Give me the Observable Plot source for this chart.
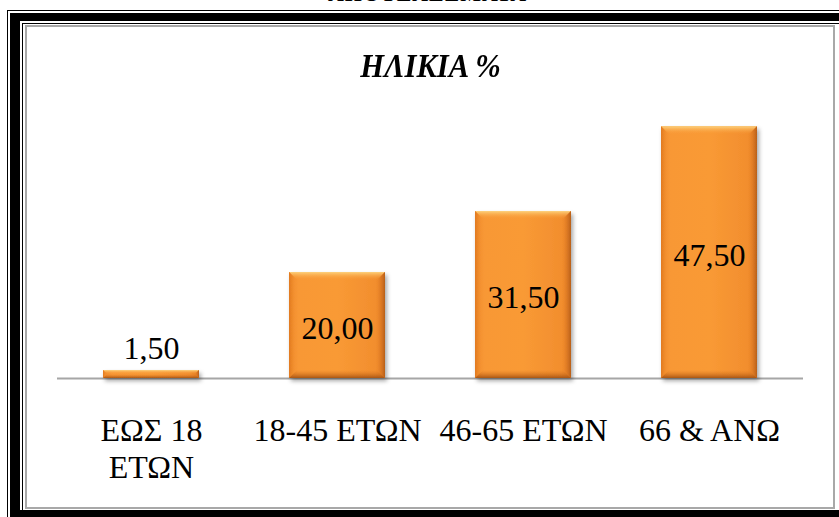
<!DOCTYPE html>
<html>
<head>
<meta charset="utf-8">
<script src="https://cdn.jsdelivr.net/npm/d3@7"></script>
<script src="https://cdn.jsdelivr.net/npm/@observablehq/plot@0.6"></script>
<style>
  html, body { margin: 0; padding: 0; background: #fff; }
  #page { position: relative; width: 839px; height: 517px; overflow: hidden; background: #fff; }
  .ln { position: absolute; box-sizing: content-box; }
  #heading { position: absolute; left: 8px; width: 839px; top: -19px; text-align: center;
    font-family: "Liberation Serif", serif; font-weight: bold; font-size: 22px; color: #000; letter-spacing: 1px; }
  #title { position: absolute; left: 11px; width: 839px; top: 49px; text-align: center; line-height: 34px;
    font-family: "Liberation Serif", serif; font-style: italic; font-weight: bold; font-size: 34px; color: #000;
    transform: scaleX(0.9); transform-origin: 50% 50%; }
  #chart { position: absolute; left: 0; top: 0; }
</style>
</head>
<body>
<div id="page">
  <div id="heading">ΑΠΟΤΕΛΕΣΜΑΤΑ</div>
  <!-- decorative double frame -->
  <div class="ln" style="left:7px;top:10px;width:900px;height:600px;border:1px solid #000;"></div>
  <div class="ln" style="left:10px;top:13px;width:900px;height:600px;background:#000;"></div>
  <div class="ln" style="left:20px;top:21px;width:900px;height:489px;background:#fff;"></div>
  <div class="ln" style="left:22px;top:23px;width:900px;height:486px;border:1px solid #000;border-right:none;"></div>
  <div class="ln" style="left:25px;top:25px;width:806px;height:480px;border:2px solid #a8a8a8;background:#fff;"></div>
  <div id="title">ΗΛΙΚΙΑ %</div>
  <div id="chart"></div>
</div>
<script>
// Age groups and their share (%)
const categories = ["ΕΩΣ 18\nΕΤΩΝ", "18-45 ΕΤΩΝ", "46-65 ΕΤΩΝ", "66 & ΑΝΩ"];
const values = [1.5, 20.0, 31.5, 47.5];
const valueLabels = ["1,50", "20,00", "31,50", "47,50"];

const data = categories.map((c, i) => ({category: c, value: values[i], label: valueLabels[i]}));
const inside = data.filter(d => d.value >= 5);
const outside = data.filter(d => d.value < 5);

const serif = '"Liberation Serif", serif';

// gradients and shadow for the bevelled bars
const defs = () => {
  const g = d3.create("svg:defs");
  const body = g.append("linearGradient").attr("id", "barBody").attr("x1", 0).attr("x2", 1).attr("y1", 0).attr("y2", 0);
  [[0, "#f08a2a"], [0.1, "#f89836"], [0.5, "#f99a35"], [0.9, "#f28e2e"], [1, "#e27b22"]]
    .forEach(([o, c]) => body.append("stop").attr("offset", o).attr("stop-color", c));
  const top = g.append("linearGradient").attr("id", "bevTop").attr("x1", 0).attr("x2", 0).attr("y1", 0).attr("y2", 1);
  top.append("stop").attr("offset", 0).attr("stop-color", "#fdd27e");
  top.append("stop").attr("offset", 1).attr("stop-color", "#f99a35").attr("stop-opacity", 0);
  const right = g.append("linearGradient").attr("id", "bevRight").attr("x1", 1).attr("x2", 0).attr("y1", 0).attr("y2", 0);
  right.append("stop").attr("offset", 0).attr("stop-color", "#b85f18");
  right.append("stop").attr("offset", 1).attr("stop-color", "#e6802a").attr("stop-opacity", 0);
  const left = g.append("linearGradient").attr("id", "bevLeft").attr("x1", 0).attr("x2", 1).attr("y1", 0).attr("y2", 0);
  left.append("stop").attr("offset", 0).attr("stop-color", "#e0781f");
  left.append("stop").attr("offset", 1).attr("stop-color", "#f99a35").attr("stop-opacity", 0);
  const bottom = g.append("linearGradient").attr("id", "bevBottom").attr("x1", 0).attr("x2", 0).attr("y1", 1).attr("y2", 0);
  bottom.append("stop").attr("offset", 0).attr("stop-color", "#a85514");
  bottom.append("stop").attr("offset", 1).attr("stop-color", "#e27b22").attr("stop-opacity", 0);
  const f = g.append("filter").attr("id", "barShadow").attr("x", "-20%").attr("y", "-20%").attr("width", "150%").attr("height", "150%");
  f.append("feDropShadow").attr("dx", 2).attr("dy", 3).attr("stdDeviation", 2).attr("flood-color", "#000").attr("flood-opacity", 0.35);
  return g.node();
};

// adds bevelled edges over each rendered bar
function bevel(index, scales, values, dims, ctx, next) {
  const g = next(index, scales, values, dims, ctx);
  const rects = Array.from(g.querySelectorAll("rect"));
  for (const r of rects) {
    const x = +r.getAttribute("x"), y = +r.getAttribute("y");
    const w = +r.getAttribute("width"), h = +r.getAttribute("height");
    const b = Math.min(8, h / 2);
    const poly = (pts, fill) => {
      const p = document.createElementNS("http://www.w3.org/2000/svg", "polygon");
      p.setAttribute("points", pts.map(q => q.join(",")).join(" "));
      p.setAttribute("fill", fill);
      g.appendChild(p);
    };
    poly([[x, y], [x + w, y], [x + w - b, y + b], [x + b, y + b]], "url(#bevTop)");
    poly([[x, y], [x + b, y + b], [x + b, y + h - b], [x, y + h]], "url(#bevLeft)");
    poly([[x + w, y], [x + w, y + h], [x + w - b, y + h - b], [x + w - b, y + b]], "url(#bevRight)");
    poly([[x, y + h], [x + w, y + h], [x + w - b, y + h - b], [x + b, y + h - b]], "url(#bevBottom)");
  }
  return g;
}

const chart = Plot.plot({
  width: 839,
  height: 517,
  marginLeft: 57,
  marginRight: 36,
  marginTop: 113,
  marginBottom: 139,
  style: {fontFamily: serif, background: "transparent", color: "#000"},
  x: {domain: categories, paddingInner: 0.485, paddingOuter: 0.2425, label: null},
  y: {domain: [0, 50], axis: null},
  marks: [
    defs,
    Plot.ruleY([0], {stroke: "#a6a6a6", strokeWidth: 2}),
    Plot.barY(data, {x: "category", y: "value", fill: "url(#barBody)", render: bevel}),
    Plot.axisX({tickSize: 0, tickPadding: 37, fontSize: 32, lineHeight: 1.135, fill: "#000", fontFamily: serif}),
    Plot.text(inside, {x: "category", y: d => d.value / 2, text: "label", fontSize: 32, dy: 3, fill: "#000", fontFamily: serif}),
    Plot.text(outside, {x: "category", y: "value", text: "label", fontSize: 32, dy: -21.5, fill: "#000", fontFamily: serif})
  ]
});
chart.querySelectorAll("g[aria-label='bar']").forEach(g => g.setAttribute("filter", "url(#barShadow)"));
document.getElementById("chart").appendChild(chart);
</script>
</body>
</html>
